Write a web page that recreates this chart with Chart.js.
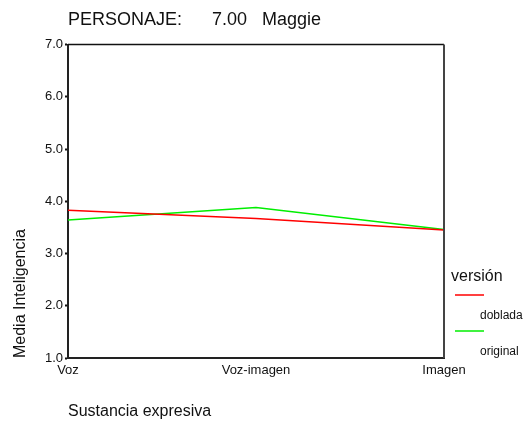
<!DOCTYPE html>
<html>
<head>
<meta charset="utf-8">
<script src="https://cdn.jsdelivr.net/npm/chart.js@4/dist/chart.umd.min.js"></script>
<style>
html,body{margin:0;padding:0;background:#fff;}
#wrap{width:532px;height:423px;position:relative;}
</style>
</head>
<body>
<div id="wrap"><canvas id="c" width="532" height="423"></canvas></div>
<script>
const categories = ['Voz', 'Voz-imagen', 'Imagen'];
const dobladaValues = [3.83, 3.67, 3.45];
const originalValues = [3.64, 3.88, 3.46];
const yTicks = [1, 2, 3, 4, 5, 6, 7];
const titleText = 'PERSONAJE:      7.00   Maggie';
const xTitle = 'Sustancia expresiva';
const yTitle = 'Media Inteligencia';
const legendTitle = 'versión';
const seriesNames = ['doblada', 'original'];

const FONT = "'Liberation Sans', Arial, sans-serif";

const frame = {
  id: 'frame',
  afterDatasetsDraw(chart) {
    const {ctx, chartArea: a} = chart;
    ctx.save();
    ctx.strokeStyle = '#111';
    ctx.lineWidth = 1.5;
    ctx.beginPath();
    ctx.moveTo(a.left, a.top);
    ctx.lineTo(a.right, a.top);
    ctx.stroke();
    ctx.strokeStyle = '#444';
    ctx.lineWidth = 2;
    ctx.beginPath();
    ctx.moveTo(a.right, a.top);
    ctx.lineTo(a.right, a.bottom);
    ctx.stroke();
    ctx.restore();
  }
};

const sideLegend = {
  id: 'sideLegend',
  afterDraw(chart) {
    const {ctx} = chart;
    ctx.save();
    ctx.fillStyle = '#111';
    ctx.textBaseline = 'middle';
    ctx.textAlign = 'left';
    ctx.font = '16px ' + FONT;
    ctx.fillText(legendTitle, 451, 277);
    const rows = [295, 331];
    chart.data.datasets.forEach((ds, i) => {
      ctx.strokeStyle = ds.borderColor;
      ctx.lineWidth = 1.5;
      ctx.beginPath();
      ctx.moveTo(455, rows[i]);
      ctx.lineTo(484, rows[i]);
      ctx.stroke();
      ctx.fillStyle = '#111';
      ctx.font = '12px ' + FONT;
      ctx.fillText(ds.label, 480, rows[i] + 21);
    });
    ctx.restore();
  }
};

new Chart(document.getElementById('c'), {
  type: 'line',
  data: {
    labels: categories,
    datasets: [
      {label: seriesNames[0], data: dobladaValues, borderColor: '#ff0000', borderWidth: 1.5, pointRadius: 0, fill: false, tension: 0},
      {label: seriesNames[1], data: originalValues, borderColor: '#00ee00', borderWidth: 1.5, pointRadius: 0, fill: false, tension: 0}
    ]
  },
  options: {
    responsive: false,
    animation: false,
    layout: {padding: {left: 0, right: 88, top: 0, bottom: 0}},
    plugins: {
      legend: {display: false},
      tooltip: {enabled: false},
      title: {
        display: true,
        text: titleText,
        align: 'start',
        fullSize: false,
        color: '#111',
        font: {family: FONT, size: 18, weight: 'normal'},
        padding: {top: 9, bottom: 14}
      }
    },
    scales: {
      x: {
        type: 'category',
        offset: false,
        afterFit(s) { s.height = 65; },
        grid: {display: true, drawOnChartArea: false, drawTicks: false},
        border: {display: true, color: '#222', width: 2},
        ticks: {color: '#111', font: {family: FONT, size: 13}, padding: 5, maxRotation: 0, autoSkip: false},
        title: {display: true, text: xTitle, align: 'start', color: '#111', font: {family: FONT, size: 16}, padding: {top: 0, bottom: 2}}
      },
      y: {
        min: 1,
        max: 7,
        afterFit(s) { s.width = 68; },
        afterBuildTicks(s) { s.ticks = yTicks.map(v => ({value: v})); },
        grid: {display: true, drawOnChartArea: false, drawTicks: true, tickLength: 3, color: '#111', tickWidth: 2},
        border: {display: true, color: '#222', width: 2},
        ticks: {color: '#111', font: {family: FONT, size: 13}, padding: 2, callback: v => Number(v).toFixed(1)},
        title: {display: true, text: yTitle, align: 'start', color: '#111', font: {family: FONT, size: 16}, padding: {top: 11, bottom: 0}}
      }
    }
  },
  plugins: [frame, sideLegend]
});
</script>
</body>
</html>
